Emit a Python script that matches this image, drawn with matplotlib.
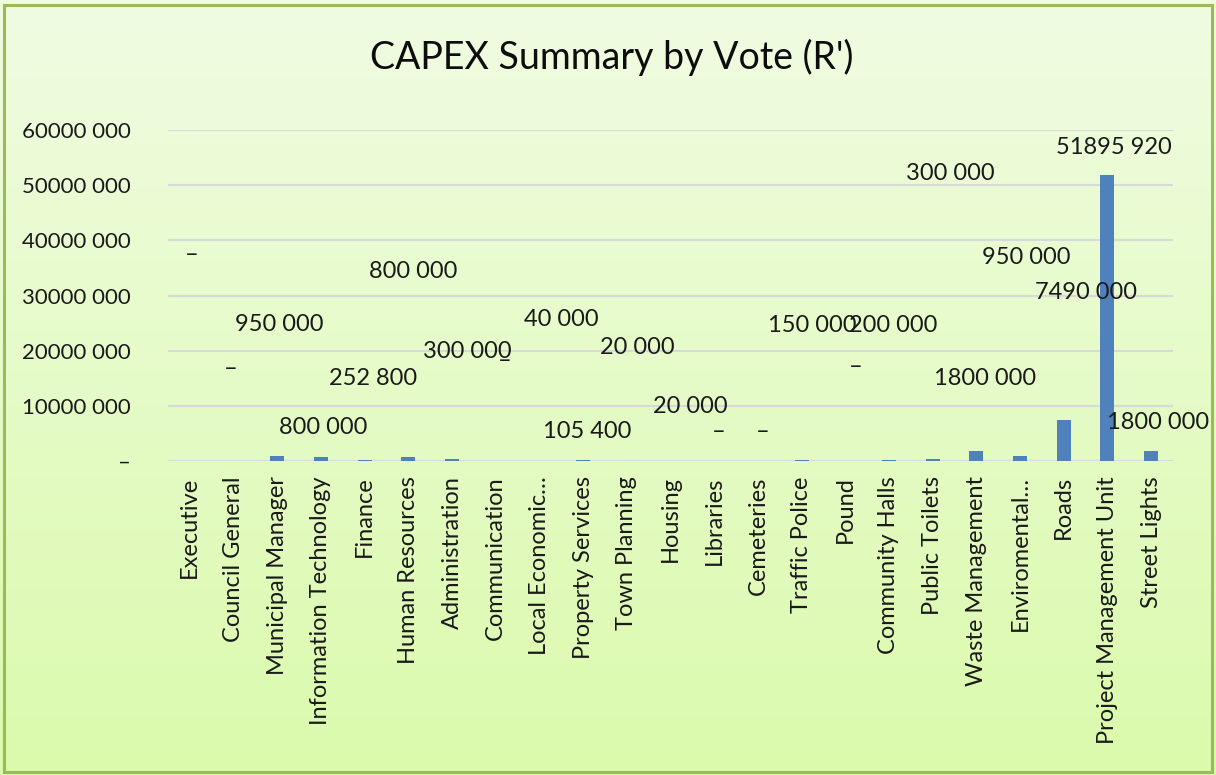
import matplotlib
matplotlib.use("Agg")
import matplotlib.pyplot as plt
import numpy as np
from matplotlib.patches import Rectangle
from matplotlib.ticker import FuncFormatter

# ---------------- data ----------------
categories = ["Executive", "Council General", "Municipal Manager", "Information Technology",
              "Finance", "Human Resources", "Administration", "Communication",
              "Local Economic\u2026", "Property Services", "Town Planning", "Housing",
              "Libraries", "Cemeteries", "Traffic Police", "Pound", "Community Halls",
              "Public Toilets", "Waste Management", "Enviromental\u2026", "Roads",
              "Project Management Unit", "Street Lights"]
values = [0, 0, 950000, 800000, 252800, 800000, 300000, 0, 40000, 105400, 20000, 20000,
          0, 0, 150000, 0, 200000, 300000, 1800000, 950000, 7490000, 51895920, 1800000]
y_ticks = [0, 10000000, 20000000, 30000000, 40000000, 50000000, 60000000]

# data-label placement (labels were dragged around in the original chart)
label_y = [37.5e6, 16.7e6, 24.7e6, 6.0e6, 14.9e6, 34.3e6, 19.8e6, 18.2e6, 25.7e6, 5.3e6,
           20.5e6, 9.8e6, 5.3e6, 5.3e6, 24.5e6, 17.2e6, 24.5e6, 52.2e6, 15.0e6, 36.8e6,
           30.6e6, 56.9e6, 6.9e6]
label_dx = [0.05, -0.07, 0.05, 0.05, 0.2, 0.1, 0.35, 0.2, 0.5, 0.1, 0.25, 0.45, 0.1, 0.1,
            0.25, 0.25, 0.1, 0.4, 0.2, 0.15, 0.5, 0.15, 0.15]


def fmt(v):
    v = int(round(v))
    if v == 0:
        return "\u2013"
    if v >= 1000:
        return f"{v // 1000} {v % 1000:03d}"
    return str(v)


FONT = "Lato"
TXT = "#1a1a1a"

fig = plt.figure(figsize=(12.16, 7.75), dpi=100)

# gradient background
bg = fig.add_axes([0, 0, 1, 1], zorder=-10)
grad = np.linspace(0, 1, 256).reshape(-1, 1)
top = np.array([240, 252, 226]) / 255
bot = np.array([219, 250, 172]) / 255
img = top[None, None, :] * (1 - grad[:, :, None]) + bot[None, None, :] * grad[:, :, None]
bg.imshow(img, aspect="auto", extent=[0, 1, 0, 1], origin="upper")
bg.set_xlim(0, 1)
bg.set_ylim(0, 1)
bg.axis("off")
fig.patches.append(Rectangle((0.003, 0.004), 0.994, 0.99, transform=fig.transFigure,
                             fill=False, edgecolor="#9bbb59", linewidth=2.2, zorder=5))

ax = fig.add_axes([168 / 1216, 1 - 461 / 775, (1173 - 168) / 1216, (461 - 130) / 775])
ax.set_facecolor("none")
x = np.arange(len(categories))
ax.bar(x, values, width=0.32, color="#4f81bd", zorder=3)
ax.set_xlim(-0.5, len(categories) - 0.5)
ax.set_ylim(0, 60000000)
ax.set_yticks(y_ticks)
ax.yaxis.set_major_formatter(FuncFormatter(lambda v, p: fmt(v)))
ax.grid(axis="y", color="#d9d9d9", linewidth=1.5, zorder=0)
for s in ax.spines.values():
    s.set_visible(False)
ax.axhline(0, color="#d9d9d9", linewidth=1.5, zorder=1)
ax.tick_params(axis="both", length=0)
ax.tick_params(axis="y", pad=27, labelsize=16, labelcolor=TXT)
ax.set_xticks(x)
ax.set_xticklabels(categories, rotation=90, fontsize=17, color=TXT, fontfamily=FONT)
ax.tick_params(axis="x", pad=11)
for lab in ax.get_yticklabels():
    lab.set_fontfamily(FONT)

for i, v in enumerate(values):
    ax.text(i + label_dx[i], label_y[i], fmt(v), ha="center", va="center",
            fontsize=17, color=TXT, fontfamily=FONT, zorder=4)

fig.text(612 / 1216, 1 - 57 / 775, "CAPEX Summary by Vote (R')", ha="center", va="center",
         fontsize=27, color="#0d0d0d", fontfamily=FONT)

fig.savefig("out.png", dpi=100)
